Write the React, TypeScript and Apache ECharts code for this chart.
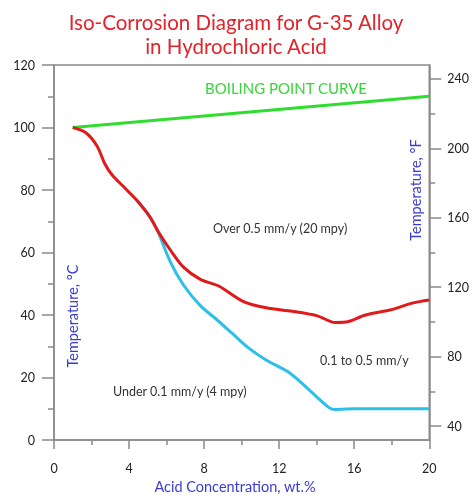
import React, { useEffect, useRef } from "react";
import * as echarts from "echarts";

const titleLines = ["Iso-Corrosion Diagram for G-35 Alloy", "in Hydrochloric Acid"];

// Boiling point curve (wt.% HCl, °C)
const boilingCurve: [number, number][] = [
  [1, 100],
  [20, 110],
];

// 0.5 mm/y iso-corrosion line
const redCurve: [number, number][] = [
  [1, 100], [1.7, 98.3], [2.3, 94], [2.7, 88.5], [3.1, 84.8], [3.7, 81.1],
  [4.4, 76.8], [5.1, 71.5], [5.6, 66.2], [6.2, 60.8], [6.9, 55.3], [7.8, 51.4],
  [8.8, 49.2], [10.1, 44.3], [11.3, 42.3], [12.7, 41.2], [14.0, 39.8], [15.0, 37.6],
  [15.7, 37.9], [16.6, 40.0], [17.9, 41.6], [19.1, 43.8], [20, 44.8],
];

// 0.1 mm/y iso-corrosion line
const blueCurve: [number, number][] = [
  [4.4, 76.8], [5.1, 71.5], [5.5, 67.2], [6.2, 57.0], [6.9, 49.6], [7.8, 43.0],
  [8.7, 38.4], [9.5, 34.1], [10.4, 29.3], [11.3, 25.6], [12.6, 21.3], [13.8, 14.9],
  [14.7, 10.2], [15.0, 9.8], [16, 10], [20, 10],
];

const xTicksMajor = { min: 0, max: 20, interval: 4 };
const yTicksMajor = { min: 0, max: 120, interval: 20 };
const fahrenheitLabels = [40, 80, 120, 160, 200, 240];
const fahrenheitMinor = [60, 100, 140, 180, 220];

const annotations = [
  { text: "BOILING POINT CURVE", x: 205, y: 88, color: "#3ad43a", size: 15 },
  { text: "Over 0.5 mm/y (20 mpy)", x: 213, y: 228, color: "#333333", size: 12.5 },
  { text: "0.1 to 0.5 mm/y", x: 320, y: 360, color: "#333333", size: 12.5 },
  { text: "Under 0.1 mm/y (4 mpy)", x: 113, y: 391, color: "#333333", size: 12.5 },
];

const FONT = "Lato, 'Open Sans', sans-serif";
const AXIS_COLOR = "#8a8a8a";
const NAME_COLOR = "#3b3bd6";

export default function App() {
  const ref = useRef<HTMLDivElement>(null);
  useEffect(() => {
    if (!ref.current) return;
    const chart = echarts.init(ref.current, undefined, { renderer: "svg" });
    const axisLine = { show: true, lineStyle: { color: AXIS_COLOR, width: 1.5 } };
    chart.setOption({
      animation: false,
      title: {
        text: titleLines.join("\n"),
        left: "center",
        top: 5,
        textStyle: {
          color: "#e3222a",
          fontSize: 20.5,
          fontWeight: "normal",
          fontFamily: FONT,
          lineHeight: 24,
          align: "center",
        },
      },
      grid: {
        left: 54,
        right: 42,
        top: 65,
        bottom: 58,
        show: true,
        borderColor: AXIS_COLOR,
        borderWidth: 1.5,
        backgroundColor: "transparent",
      },
      xAxis: {
        type: "value",
        ...xTicksMajor,
        axisLine,
        axisTick: { show: true, length: 9, lineStyle: { color: AXIS_COLOR, width: 1.5 } },
        minorTick: { show: true, splitNumber: 2, length: 5, lineStyle: { color: AXIS_COLOR, width: 1.5 } },
        splitLine: { show: false },
        axisLabel: { margin: 22, color: "#222", fontSize: 12.5, fontFamily: FONT },
      },
      yAxis: [
        {
          type: "value",
          ...yTicksMajor,
          axisLine,
          axisTick: { show: true, length: 12, lineStyle: { color: AXIS_COLOR, width: 1.5 } },
          minorTick: { show: true, splitNumber: 2, length: 6, lineStyle: { color: AXIS_COLOR, width: 1.5 } },
          splitLine: { show: false },
          axisLabel: { margin: 19, color: "#222", fontSize: 12.5, fontFamily: FONT },
        },
        {
          type: "value",
          position: "right",
          min: 32,
          max: 248,
          axisLine,
          axisTick: {
            show: true,
            length: 12,
            customValues: fahrenheitLabels,
            lineStyle: { color: AXIS_COLOR, width: 1.5 },
          },
          axisLabel: {
            margin: 18,
            color: "#222",
            fontSize: 12.5,
            fontFamily: FONT,
            customValues: fahrenheitLabels,
          },
          splitLine: { show: false },
        },
        {
          type: "value",
          position: "right",
          min: 32,
          max: 248,
          axisLine: { show: false },
          axisTick: {
            show: true,
            length: 6,
            customValues: fahrenheitMinor,
            lineStyle: { color: AXIS_COLOR, width: 1.5 },
          },
          axisLabel: { show: false },
          splitLine: { show: false },
        },
      ],
      graphic: [
        ...annotations.map((a) => ({
          type: "text",
          x: a.x,
          y: a.y,
          style: {
            text: a.text,
            fill: a.color,
            fontSize: a.size,
            fontFamily: FONT,
            verticalAlign: "middle",
          },
          z: 10,
        })),
        {
          type: "text",
          x: 72,
          y: 316,
          rotation: Math.PI / 2,
          style: {
            text: "Temperature, °C",
            fill: NAME_COLOR,
            fontSize: 14.5,
            fontFamily: FONT,
            align: "center",
            verticalAlign: "middle",
          },
        },
        {
          type: "text",
          x: 415,
          y: 190,
          rotation: Math.PI / 2,
          style: {
            text: "Temperature, °F",
            fill: NAME_COLOR,
            fontSize: 14.5,
            fontFamily: FONT,
            align: "center",
            verticalAlign: "middle",
          },
        },
        {
          type: "text",
          x: 235,
          y: 486,
          style: {
            text: "Acid Concentration, wt.%",
            fill: NAME_COLOR,
            fontSize: 14.5,
            fontFamily: FONT,
            align: "center",
            verticalAlign: "middle",
          },
        },
      ],
      series: [
        {
          type: "line",
          data: boilingCurve,
          showSymbol: false,
          lineStyle: { color: "#2fdc2f", width: 3 },
          z: 3,
        },
        {
          type: "line",
          data: blueCurve,
          smooth: 0.3,
          showSymbol: false,
          lineStyle: { color: "#2ac0ea", width: 3 },
          z: 2,
        },
        {
          type: "line",
          data: redCurve,
          smooth: 0.3,
          showSymbol: false,
          lineStyle: { color: "#e01a1a", width: 3 },
          z: 4,
        },
      ],
    });
    return () => chart.dispose();
  }, []);
  return (
    <div
      ref={ref}
      style={{ position: "fixed", left: 0, top: 0, width: 472, height: 498 }}
    />
  );
}
